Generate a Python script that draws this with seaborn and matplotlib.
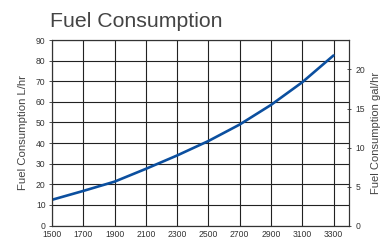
import matplotlib
matplotlib.use("Agg")
import matplotlib.pyplot as plt
import seaborn as sns
import pandas as pd

rpm = [1500, 1700, 1900, 2100, 2300, 2500, 2700, 2900, 3100, 3300]
fuel_lhr = [12.5, 16.8, 21.3, 27.5, 34.0, 41.0, 49.0, 58.5, 69.5, 82.5]
x_ticks = [1500, 1700, 1900, 2100, 2300, 2500, 2700, 2900, 3100, 3300]
y_ticks = [0, 10, 20, 30, 40, 50, 60, 70, 80, 90]
gal_ticks = [0, 5, 10, 15, 20]
L_PER_GAL = 3.785

sns.set_theme(style="white")
plt.rcParams['font.family'] = ['Liberation Sans', 'DejaVu Sans']

df = pd.DataFrame({"rpm": rpm, "fuel": fuel_lhr})

fig = plt.figure(figsize=(3.82, 2.41), dpi=100)
ax = fig.add_axes([0.136, 0.064, 0.778, 0.770])
sns.lineplot(data=df, x="rpm", y="fuel", ax=ax, color="#0b4f9f", linewidth=1.9, zorder=3)

ax.set_xlim(1500, 3400)
ax.set_ylim(0, 90)
ax.set_xticks(x_ticks)
ax.set_yticks(y_ticks)
ax.set_xticklabels([str(t) for t in x_ticks])
ax.grid(True, color="#222222", linewidth=0.8)
for s in ax.spines.values():
    s.set_color("#333333")
    s.set_linewidth(0.8)
ax.tick_params(axis='both', labelsize=6.2, colors="#333333", length=2.5, width=0.6, pad=2)
ax.tick_params(axis='x', pad=1.5, length=2)
ax.set_xlabel("")
ax.set_ylabel("Fuel Consumption L/hr", fontsize=8.2, color="#444444", labelpad=6)

ax2 = ax.twinx()
ax2.set_ylim(0, 90 / L_PER_GAL)
ax2.set_yticks(gal_ticks)
ax2.tick_params(axis='y', labelsize=6.2, colors="#333333", length=3, width=0.6, pad=3, direction='inout')
ax2.set_ylabel("Fuel Consumption gal/hr", fontsize=8.0, color="#444444", labelpad=4)
for s in ax2.spines.values():
    s.set_color("#333333")
    s.set_linewidth(0.8)

fig.text(0.13, 0.888, "Fuel Consumption", fontsize=15.3, color="#444444", ha="left", va="baseline")

fig.savefig("out.png", dpi=100)
